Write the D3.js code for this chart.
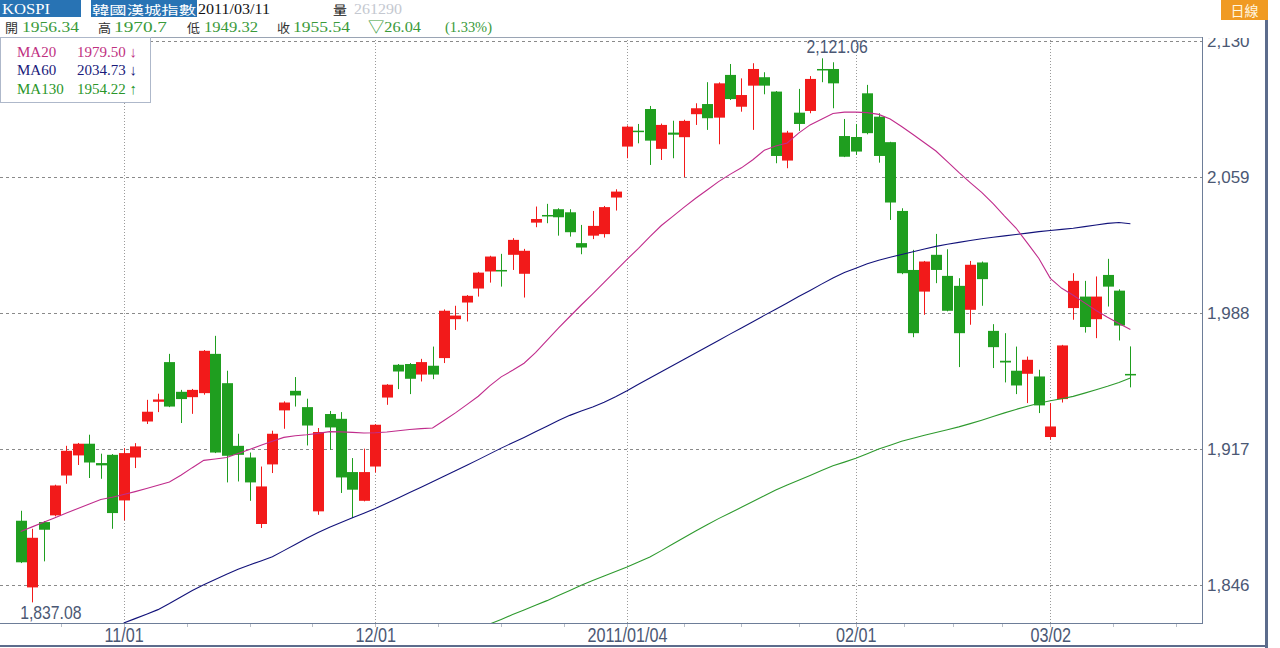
<!DOCTYPE html>
<html><head><meta charset="utf-8">
<script src="https://cdn.jsdelivr.net/npm/d3@7"></script>
<style>
html,body{margin:0;padding:0;background:#fff;overflow:hidden}
svg{display:block}
</style></head><body>
<svg id="chart" width="1280" height="648"></svg>
<script>
// ---- data ----
const dates = [
"2010/10/19","2010/10/20","2010/10/21","2010/10/22","2010/10/25","2010/10/26","2010/10/27","2010/10/28","2010/10/29",
"2010/11/01","2010/11/02","2010/11/03","2010/11/04","2010/11/05","2010/11/08","2010/11/09","2010/11/10","2010/11/11","2010/11/12",
"2010/11/15","2010/11/16","2010/11/17","2010/11/18","2010/11/19","2010/11/22","2010/11/23","2010/11/24","2010/11/25","2010/11/26",
"2010/11/29","2010/11/30",
"2010/12/01","2010/12/02","2010/12/03","2010/12/06","2010/12/07","2010/12/08","2010/12/09","2010/12/10","2010/12/13","2010/12/14",
"2010/12/15","2010/12/16","2010/12/17","2010/12/20","2010/12/21","2010/12/22","2010/12/23","2010/12/24","2010/12/27","2010/12/28",
"2010/12/29","2010/12/30",
"2011/01/04","2011/01/05","2011/01/06","2011/01/07","2011/01/10","2011/01/11","2011/01/12","2011/01/13","2011/01/14","2011/01/17",
"2011/01/18","2011/01/19","2011/01/20","2011/01/21","2011/01/24","2011/01/25","2011/01/26","2011/01/27","2011/01/28","2011/01/31",
"2011/02/01","2011/02/07","2011/02/08","2011/02/09","2011/02/10","2011/02/11","2011/02/14","2011/02/15","2011/02/16","2011/02/17",
"2011/02/18","2011/02/21","2011/02/22","2011/02/23","2011/02/24","2011/02/25","2011/02/28",
"2011/03/02","2011/03/03","2011/03/04","2011/03/07","2011/03/08","2011/03/09","2011/03/10","2011/03/11"];

const open = [1879.7,1844.9,1879.0,1882.5,1903.3,1913.8,1919.9,1909.8,1914.1,1890.3,
1912.7,1931.5,1941.8,1962.5,1947.0,1944.2,1946.3,1966.8,1951.5,1918.8,
1912.7,1878.0,1909.1,1937.3,1947.5,1939.0,1884.6,1935.4,1932.9,1905.1,
1890.1,1908.0,1944.0,1961.1,1961.5,1956.0,1960.6,1964.6,1984.9,1993.6,
2000.9,2009.8,2010.6,2018.5,2008.6,2035.3,2039.3,2042.3,2040.7,2024.6,
2028.5,2029.3,2048.4,2075.0,2083.3,2094.6,2073.8,2082.3,2079.9,2091.9,
2097.2,2090.1,2112.4,2095.8,2106.8,2111.2,2103.7,2067.7,2092.7,2093.6,
2115.5,2115.5,2080.5,2080.0,2102.8,2090.6,2077.3,2041.4,2010.6,1999.3,
2018.5,2007.5,2002.3,1989.8,2014.5,1978.8,1963.2,1958.0,1956.4,1955.0,
1923.4,1943.2,1990.7,1996.7,1984.9,2008.0,1999.8,1956.34];
const high = [1884.9,1875.5,1879.5,1898.5,1918.8,1920.3,1924.6,1914.7,1914.5,1917.6,
1920.2,1942.8,1946.0,1966.8,1948.0,1948.5,1968.8,1976.2,1958.0,1925.1,
1915.3,1908.0,1926.7,1942.0,1954.7,1943.4,1928.1,1937.0,1936.4,1912.4,
1917.3,1930.2,1951.0,1961.5,1962.0,1964.2,1970.6,1990.0,1991.9,1997.5,
2009.6,2018.0,2019.0,2027.2,2021.6,2043.7,2045.1,2042.8,2042.3,2034.1,
2041.4,2044.0,2052.7,2086.0,2086.8,2096.2,2087.0,2088.5,2089.0,2097.6,
2108.6,2108.5,2118.1,2110.6,2118.5,2113.8,2104.0,2083.2,2105.1,2111.8,
2121.06,2119.0,2089.4,2086.8,2107.2,2092.4,2077.5,2042.8,2021.1,2015.3,
2029.4,2021.4,2006.3,2015.3,2015.0,1982.3,1977.6,1970.6,1965.4,1958.5,
1941.1,1971.5,2008.9,2004.9,2007.2,2016.4,2000.5,1970.7];
const low = [1857.6,1837.08,1858.5,1882.0,1899.0,1908.8,1902.0,1901.6,1875.5,1879.9,
1907.2,1930.2,1936.4,1939.0,1930.7,1935.5,1945.5,1915.0,1899.7,1900.2,
1890.1,1875.9,1904.6,1927.7,1939.3,1919.0,1882.8,1916.7,1894.2,1881.1,
1889.8,1904.9,1940.2,1948.4,1945.8,1952.4,1953.6,1962.0,1979.3,1983.7,
1996.7,2004.0,2001.9,2010.6,1996.2,2032.9,2035.0,2028.5,2028.0,2018.8,
2026.7,2027.5,2041.6,2068.9,2076.7,2065.4,2068.0,2068.9,2059.0,2086.3,
2083.7,2076.2,2099.3,2093.2,2083.7,2102.3,2066.3,2063.7,2083.2,2092.4,
2108.6,2095.0,2069.5,2070.6,2081.4,2066.6,2036.7,2008.4,1975.5,1987.2,
2003.7,1989.0,1959.9,1982.0,1991.9,1959.4,1951.9,1945.8,1941.1,1935.9,
1922.0,1941.4,1984.6,1977.9,1975.0,1991.5,1973.8,1949.32];
const close = [1858.0,1870.8,1875.0,1898.1,1916.2,1919.9,1910.1,1908.6,1883.7,1915.0,
1918.5,1936.6,1943.0,1939.3,1943.2,1948.0,1968.4,1915.3,1913.6,1914.1,
1899.7,1897.6,1925.1,1941.4,1945.1,1929.4,1926.0,1928.4,1902.3,1895.9,
1905.1,1929.8,1950.7,1957.6,1953.8,1962.5,1956.0,1989.3,1986.8,1997.1,
2009.2,2017.6,2009.8,2026.3,2020.6,2037.2,2038.8,2038.1,2030.3,2022.3,
2033.6,2043.4,2051.5,2085.4,2082.8,2078.1,2086.3,2081.2,2088.4,2095.0,
2089.8,2108.0,2099.8,2101.9,2115.5,2106.8,2070.1,2082.3,2086.8,2110.3,
2115.0,2108.0,2069.7,2072.4,2082.0,2070.1,2045.8,2008.9,1977.6,2015.0,
2010.6,1989.3,1977.6,2013.3,2005.8,1970.3,1962.3,1950.3,1963.7,1939.9,
1928.9,1971.2,2004.9,1980.8,1996.7,2001.9,1981.58,1955.54];

const ma20 = [1874.1,1876.5,1878.9,1881.3,1883.7,1886.1,1888.4,1890.8,1892.0,1893.4,
1894.9,1896.5,1898.2,1899.9,1903.4,1907.4,1911.2,1911.9,1912.7,1914.8,
1916.9,1919.1,1921.2,1923.2,1924.1,1924.6,1925.3,1926.2,1926.1,1925.8,
1925.5,1925.6,1926.0,1926.7,1927.3,1927.8,1928.1,1932.0,1936.0,1940.3,
1944.7,1950.1,1954.8,1958.2,1961.9,1967.4,1973.8,1980.2,1986.3,1992.3,
1998.1,2004.1,2010.1,2016.1,2021.9,2028.0,2033.8,2038.6,2043.4,2048.0,
2052.3,2056.7,2060.5,2063.9,2068.1,2073.1,2075.3,2076.9,2082.0,2086.3,
2089.3,2092.3,2093.0,2093.0,2092.7,2091.8,2089.4,2085.5,2081.3,2077.0,
2072.7,2067.1,2061.5,2056.2,2051.1,2045.2,2038.7,2032.5,2024.6,2016.6,
2006.2,2001.0,1997.4,1993.4,1989.4,1985.9,1982.7,1979.50];

const ma60 = [null,null,null,null,null,null,null,null,null,
1826.3,1828.6,1830.9,1833.3,1836.5,1839.9,1843.3,1846.3,1849.0,1851.8,
1854.4,1856.6,1858.7,1860.9,1864.1,1867.3,1870.6,1873.5,1876.3,1878.8,
1881.2,1883.6,1886.1,1888.8,1891.6,1894.4,1897.2,1900.1,1902.9,1905.8,
1908.7,1911.6,1914.6,1917.6,1920.4,1923.2,1926.1,1929.0,1932.0,1934.7,
1937.0,1939.1,1941.5,1944.4,1947.5,1950.9,1954.2,1957.5,1960.7,1964.0,
1967.2,1970.5,1973.8,1977.1,1980.3,1983.6,1986.9,1990.1,1993.4,1996.7,
1999.9,2003.2,2006.4,2009.3,2011.5,2013.8,2015.7,2017.2,2018.7,2020.1,
2021.5,2022.9,2024.0,2025.0,2026.0,2026.9,2027.7,2028.4,2029.1,2029.8,
2030.6,2031.2,2031.8,2032.4,2033.2,2034.1,2034.9,2035.4,2034.73];

const ma130 = [null,null,null,null,null,null,null,null,null,null,
null,null,null,null,null,null,null,null,null,null,
null,null,null,null,null,null,null,null,null,null,
null,null,null,null,null,null,null,null,null,null,
null,
1825.8,1828.2,1830.7,1833.1,1835.6,1838.0,1840.7,1843.3,1846.0,1848.5,
1850.8,1853.2,1855.5,1858.2,1860.8,1864.1,1867.6,1871.0,1874.3,1877.6,
1880.8,1883.7,1886.7,1889.7,1892.7,1895.7,1898.4,1900.8,1903.3,1905.9,
1908.4,1910.3,1912.3,1914.7,1917.1,1919.1,1921.2,1922.8,1924.3,1925.8,
1927.2,1928.7,1930.4,1932.2,1934.1,1936.0,1937.8,1939.5,1941.0,1942.3,
1943.4,1944.6,1946.3,1948.1,1949.9,1951.9,1954.22];

const yTicks = [1846, 1917, 1988, 2059, 2130];
const xTickDates = ["2010/11/01","2010/12/01","2011/01/04","2011/02/01","2011/03/02"];
const xTickLabels = ["11/01","12/01","2011/01/04","02/01","03/02"];
const volume = "261290";
const changeText = "▽26.04";
const changePct = "(1.33%)";

// ---- layout ----
const svg = d3.select("#chart");
const P = {left:0, right:1202, top:37, bottom:623};
const n = dates.length;
const x = d3.scaleLinear().domain([0, n-1]).range([20.7, 1130.4]);
const y = d3.scaleLinear().domain([1846, 2130]).range([585.3, 41.2]);
const UP = "#f21a1a", DOWN = "#1f9e1f";
const AXC = "#4b5874";
const SANS = "'Liberation Sans',Arial,sans-serif";
const SERIF = "'Liberation Serif','Noto Sans CJK TC',serif";
const CJK = "'Noto Sans CJK TC','Noto Sans CJK SC',sans-serif";

function squeeze(sel, factor){
  sel.each(function(){
    const w = this.getComputedTextLength();
    d3.select(this).attr("textLength", w*factor).attr("lengthAdjust","spacingAndGlyphs");
  });
}

const defs = svg.append("defs");
defs.append("clipPath").attr("id","clip")
  .append("rect").attr("x",P.left).attr("y",P.top).attr("width",P.right-P.left).attr("height",P.bottom-P.top);
defs.append("clipPath").attr("id","clipRa")
  .append("rect").attr("x",0).attr("y",P.top+1).attr("width",80).attr("height",P.bottom-P.top+10);

// horizontal grid
svg.append("g").selectAll("line").data(yTicks).join("line")
  .attr("x1",P.left).attr("x2",P.right)
  .attr("y1",d=>Math.round(y(d))+0.5).attr("y2",d=>Math.round(y(d))+0.5)
  .attr("stroke","#8a8a8a").attr("stroke-dasharray","3,3").attr("stroke-width",1);

// vertical grid
const majorIdx = xTickDates.map(d=>dates.indexOf(d));
svg.append("g").selectAll("line").data(majorIdx).join("line")
  .attr("x1",d=>Math.round(x(d))+0.5).attr("x2",d=>Math.round(x(d))+0.5)
  .attr("y1",P.top).attr("y2",P.bottom)
  .attr("stroke","#9a9a9a").attr("stroke-dasharray","1,2").attr("stroke-width",1);

// frame of plot
svg.append("line").attr("x1",0).attr("x2",P.right).attr("y1",P.top+0.5).attr("y2",P.top+0.5).attr("stroke","#9aa4b4");
svg.append("line").attr("x1",P.right+0.5).attr("x2",P.right+0.5).attr("y1",P.top).attr("y2",P.bottom+1).attr("stroke","#6d7d98");
svg.append("line").attr("x1",0).attr("x2",P.right+1).attr("y1",P.bottom+0.5).attr("y2",P.bottom+0.5).attr("stroke","#6d7d98");

// minor ticks (quarters between month starts)
const minor = [];
minor.push(majorIdx[0]-5.5);
for (let k=0;k<majorIdx.length-1;k++){
  const a=majorIdx[k], b=majorIdx[k+1];
  for (let q=1;q<4;q++) minor.push(a+(b-a)*q/4);
}
minor.push(majorIdx[majorIdx.length-1]+5.5, majorIdx[majorIdx.length-1]+11);
svg.append("g").selectAll("line").data(minor.concat(majorIdx)).join("line")
  .attr("x1",d=>Math.round(x(d))+0.5).attr("x2",d=>Math.round(x(d))+0.5)
  .attr("y1",P.bottom+1).attr("y2",P.bottom+4).attr("stroke","#b8bec8");

// candles
const data = dates.map((d,i)=>({i, d, o:open[i], h:high[i], l:low[i], c:close[i]}));
const cg = svg.append("g").attr("clip-path","url(#clip)");
cg.selectAll("line.wick").data(data).join("line").attr("class","wick")
  .attr("x1",d=>Math.round(x(d.i))+0.5).attr("x2",d=>Math.round(x(d.i))+0.5)
  .attr("y1",d=>y(d.h)).attr("y2",d=>y(d.l))
  .attr("stroke",d=>d.c>=d.o?UP:DOWN).attr("stroke-width",1);
cg.selectAll("rect.body").data(data).join("rect").attr("class","body")
  .attr("x",d=>Math.round(x(d.i))-5).attr("width",11)
  .attr("y",d=>y(Math.max(d.o,d.c)))
  .attr("height",d=>Math.max(1.5, Math.abs(y(d.o)-y(d.c))))
  .attr("fill",d=>d.c>=d.o?UP:DOWN);

// moving averages
const lineGen = d3.line().defined(v=>v!=null).x((v,i)=>x(i)).y(v=>y(v));
const mg = svg.append("g").attr("clip-path","url(#clip)");
[[ma130,"#2e9a2e"],[ma60,"#12127a"],[ma20,"#c02c8c"]].forEach(([arr,col])=>{
  mg.append("path").attr("d",lineGen(arr)).attr("fill","none").attr("stroke",col).attr("stroke-width",1.1);
});

// right axis
const yAxis = d3.axisRight(y).tickValues(yTicks).tickFormat(d3.format(",")).tickSize(0).tickPadding(0);
const ya = svg.append("g").attr("transform",`translate(${P.right+5},0)`).attr("clip-path","url(#clipRa)").call(yAxis);
ya.select(".domain").remove();
ya.selectAll("text").attr("fill",AXC).attr("font-family",SANS).attr("font-size",17).attr("dy","0.3em");

// bottom axis
const xAxis = d3.axisBottom(x).tickValues(majorIdx).tickFormat((d,i)=>xTickLabels[i]).tickSize(0).tickPadding(0);
const xa = svg.append("g").attr("transform",`translate(0,${P.bottom})`).call(xAxis);
xa.select(".domain").remove();
xa.selectAll("text").attr("fill",AXC).attr("font-family",SANS).attr("font-size",20).attr("dy",null).attr("y",19);
squeeze(xa.selectAll("text"), 0.81);

// high / low labels
const hiI = d3.maxIndex(high), loI = d3.minIndex(low);
const fmt2 = d3.format(",.2f");
const hl = svg.append("g");
hl.append("text").attr("x",x(hiI)-15).attr("y",y(high[hiI])-5).text(fmt2(high[hiI]))
  .attr("fill",AXC).attr("font-family",SANS).attr("font-size",19);
hl.append("text").attr("x",x(loI)-12).attr("y",y(low[loI])+17).text(fmt2(low[loI]))
  .attr("fill",AXC).attr("font-family",SANS).attr("font-size",19);
squeeze(hl.selectAll("text"), 0.83);

// legend
const lg = svg.append("g");
lg.append("rect").attr("x",0.5).attr("y",P.top+0.5).attr("width",150).attr("height",65)
  .attr("fill","#fff").attr("stroke","#aeb8ca");
const legendRows = [["MA20",ma20,"#c0307f"],["MA60",ma60,"#1a1a7a"],["MA130",ma130,"#2a962a"]];
legendRows.forEach(([name,arr,col],k)=>{
  const last = arr[arr.length-1], prev = arr[arr.length-2];
  const yy = 57 + k*18.3;
  lg.append("text").attr("x",17).attr("y",yy).text(name).attr("fill",col)
    .attr("font-family",SERIF).attr("font-size",15);
  lg.append("text").attr("x",77).attr("y",yy).text(d3.format(".2f")(last)+" "+(last<prev?"↓":"↑"))
    .attr("fill",col).attr("font-family",SERIF).attr("font-size",15);
});

// header
const hd = svg.append("g");
hd.append("rect").attr("x",0).attr("y",0).attr("width",81).attr("height",17).attr("fill","#2873b4");
hd.append("text").attr("x",2).attr("y",14).text("KOSPI").attr("fill","#fff").attr("font-family",SERIF).attr("font-size",15)
  .attr("textLength",48).attr("lengthAdjust","spacingAndGlyphs");
hd.append("rect").attr("x",91).attr("y",0).attr("width",106).attr("height",17).attr("fill","#2873b4");
hd.append("text").attr("x",92).attr("y",14.5).text("韓國漢城指數").attr("fill","#fff").attr("font-family",CJK).attr("font-size",12)
  .attr("textLength",104).attr("lengthAdjust","spacingAndGlyphs");
hd.append("text").attr("x",198).attr("y",14).text(dates[n-1]).attr("fill","#111").attr("font-family",SERIF).attr("font-size",15)
  .attr("textLength",72).attr("lengthAdjust","spacingAndGlyphs");
hd.append("text").attr("x",333).attr("y",14.5).text("量").attr("fill","#111").attr("font-family",CJK).attr("font-size",12)
  .attr("textLength",14).attr("lengthAdjust","spacingAndGlyphs");
hd.append("text").attr("x",354).attr("y",14).text(volume).attr("fill","#c4c8d0").attr("font-family",SERIF).attr("font-size",15)
  .attr("textLength",48).attr("lengthAdjust","spacingAndGlyphs");

const GREEN_T = "#3a9a3a";
const row2 = [
  ["開",5,13,"#333",CJK],[String(open[n-1]),22,57,GREEN_T,SERIF],
  ["高",98,13,"#333",CJK],[String(high[n-1]),114,53,GREEN_T,SERIF],
  ["低",187,13,"#333",CJK],[String(low[n-1]),204,54,GREEN_T,SERIF],
  ["收",277,13,"#333",CJK],[String(close[n-1]),293,57,GREEN_T,SERIF],
  [changeText,368,53,GREEN_T,SERIF],[changePct,445,47,GREEN_T,SERIF]
];
row2.forEach(([t,xx,len,col,ff])=>{
  const el = hd.append("text").attr("x",xx).attr("y",ff===CJK?33:32).text(t).attr("fill",col).attr("font-family",ff)
    .attr("font-size", ff===CJK?12.5:15);
  if (len) el.attr("textLength",len).attr("lengthAdjust","spacingAndGlyphs");
});

// right-top tag & outer frame
svg.append("rect").attr("x",1221).attr("y",0).attr("width",47).attr("height",20).attr("fill","#f09a22");
svg.append("text").attr("x",1244.5).attr("y",16).attr("text-anchor","middle").text("日線")
  .attr("fill","#fff6e0").attr("font-family",CJK).attr("font-size",14);
svg.append("rect").attr("x",1265).attr("y",20).attr("width",3).attr("height",628).attr("fill","#5c6c8c");
svg.append("rect").attr("x",0).attr("y",645).attr("width",1268).attr("height",2).attr("fill","#5c6c8c");
</script>
</body></html>
